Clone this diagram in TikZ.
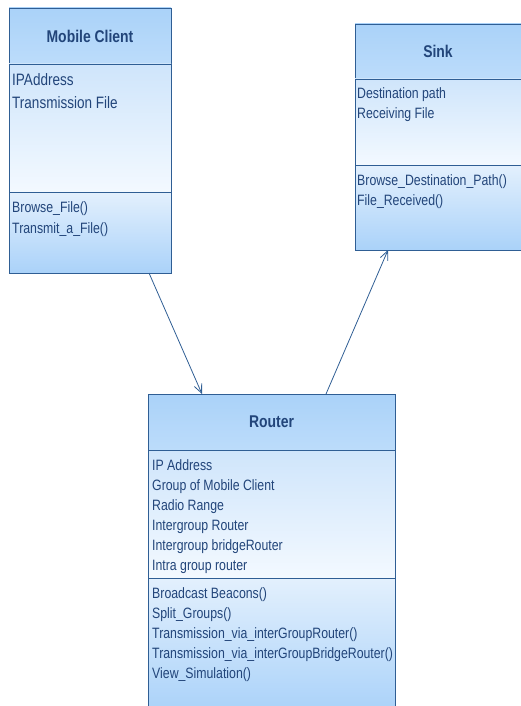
\documentclass[tikz,border=0pt]{standalone}
\usepackage{fontspec}
\setmainfont{Liberation Sans}[FakeStretch=0.82]
\usetikzlibrary{arrows.meta,calc,positioning}
\definecolor{umlline}{HTML}{2F5E94}
\definecolor{umltext}{HTML}{22457A}
\definecolor{umlhead}{HTML}{AAD2F9}
\definecolor{umlheadlo}{HTML}{BCDCFA}
\definecolor{umlattr}{HTML}{CFE5FB}
\definecolor{umlpale}{HTML}{F3F9FF}
\definecolor{umlpaleop}{HTML}{E3F0FD}
\begin{document}
\begin{tikzpicture}[x=1pt,y=-1pt,>={Straight Barb[length=9pt,width=8pt]},
    part/.style={draw=umlline,line width=.8pt,inner sep=0pt,outer sep=0pt},
    head/.style={part,top color=umlhead,bottom color=umlheadlo,text=umltext,
      font=\fontsize{17}{20}\selectfont\bfseries},
    attr/.style={part,top color=umlattr,bottom color=umlpale},
    oper/.style={part,top color=umlpaleop,bottom color=umlhead},
    lines/.style={anchor=base west,inner sep=0pt,align=left,text=umltext,
      font=\fontsize{15}{20}\selectfont},
    link/.style={->,draw=umlline,line width=.8pt}]
  \useasboundingbox (0,0) rectangle (520,706);

  \node[head,minimum width=162,minimum height=56,anchor=north west] (mct) at (9,8) {Mobile Client};
  \node[attr,minimum width=162,minimum height=128,below=0pt of mct] (mca) {};
  \node[oper,minimum width=162,minimum height=81,below=0pt of mca] (mco) {};
  \node[lines,font=\fontsize{16.5}{23}\selectfont] (mcattr) at ($(mca.north west)+(3,45)$)
    {IPAddress\\Transmission File};
  \node[lines,font=\fontsize{15}{21}\selectfont] (mcoper) at ($(mco.north west)+(3,41)$)
    {Browse\_File()\\Transmit\_a\_File()};

  \node[head,minimum width=166,minimum height=55,anchor=north west] (skt) at (355,24) {Sink};
  \node[attr,minimum width=166,minimum height=86,below=0pt of skt] (ska) {};
  \node[oper,minimum width=166,minimum height=85,below=0pt of ska] (sko) {};
  \node[lines] (skattr) at ($(ska.north west)+(2,39)$)
    {Destination path\\Receiving File};
  \node[lines] (skoper) at ($(sko.north west)+(2,40)$)
    {Browse\_Destination\_Path()\\File\_Received()};

  \node[head,minimum width=247,minimum height=56,anchor=north west] (rtt) at (148,394) {Router};
  \node[attr,minimum width=247,minimum height=128,below=0pt of rtt] (rta) {};
  \node[oper,minimum width=247,minimum height=134,below=0pt of rta] (rto) {};
  \node[lines] (rtattr) at ($(rta.north west)+(4,120)$)
    {IP Address\\Group of Mobile Client\\Radio Range\\Intergroup Router\\Intergroup bridgeRouter\\Intra group router};
  \node[lines] (rtoper) at ($(rto.north west)+(4,100)$)
    {Broadcast Beacons()\\Split\_Groups()\\Transmission\_via\_interGroupRouter()\\Transmission\_via\_interGroupBridgeRouter()\\View\_Simulation()};

  \draw[link] ($(mco.south west)+(140,0)$) -- ($(rtt.north west)+(54,0)$);
  \draw[link] ($(rtt.north west)+(178,0)$) -- ($(sko.south west)+(33,0)$);
\end{tikzpicture}
\end{document}
